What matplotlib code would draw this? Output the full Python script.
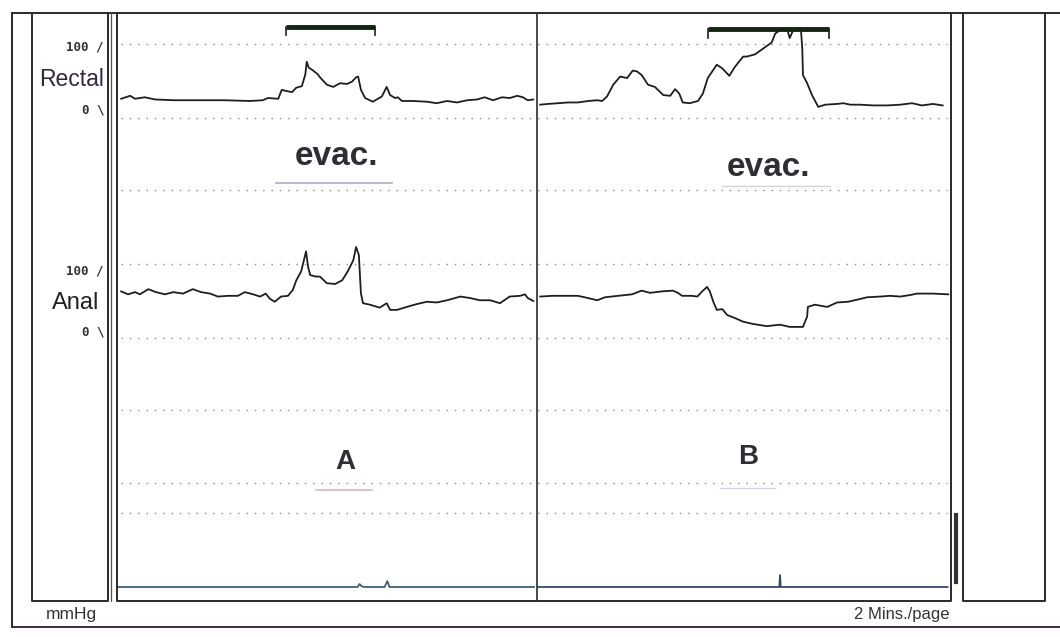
import matplotlib.pyplot as plt
from matplotlib.lines import Line2D

# time axis: seconds across one 2 min page, pressures in mmHg
rect_a_t = [0.6, 1.9, 2.6, 4.0, 5.5, 8.3, 11.9, 15.5, 19.1, 21.0, 21.7, 23.2, 23.7, 24.6, 25.2,
            25.8, 26.6, 27.1, 27.3, 27.6, 28.1, 28.9, 29.2, 30.2, 31.1, 32.1, 33.1, 33.8, 34.4,
            34.7, 35.1, 35.7, 36.8, 38.1, 38.8, 39.3, 40.0, 40.4, 41.0, 42.6, 44.6, 46.0, 47.5,
            48.9, 50.4, 51.8, 52.9, 54.1, 55.4, 56.5, 57.6, 58.4, 59.1, 59.9]
rect_a_p = [26, 30, 26, 28, 25, 24, 24, 24, 23, 24, 27, 26, 38, 36, 35,
            41, 43, 59, 76, 68, 65, 59, 55, 45, 42, 47, 46, 49, 55,
            56, 38, 27, 22, 29, 42, 31, 27, 28, 23, 23, 22, 20, 23,
            21, 24, 25, 28, 24, 28, 27, 30, 28, 24, 25]

rect_b_t = [60.9, 62.0, 63.5, 64.9, 66.3, 67.8, 69.1, 69.8, 70.5, 71.4, 72.4, 73.4, 74.2, 74.8,
            75.5, 76.4, 77.4, 78.6, 79.6, 80.3, 80.9, 81.4, 82.4, 83.6, 84.3, 85.0, 86.3, 87.1,
            88.1, 88.9, 90.1, 90.6, 91.8, 93.0, 94.2, 94.7, 95.4, 96.4, 96.8, 97.3, 98.0, 98.4,
            98.6, 98.7, 99.3, 100.0, 100.9, 101.9, 103.6, 104.5, 105.5, 106.9, 108.8, 110.8,
            112.7, 114.4, 115.8, 117.4, 118.8]
rect_b_p = [18, 19, 20, 21, 21, 23, 24, 23, 29, 45, 56, 54, 64, 63,
            58, 45, 42, 31, 30, 39, 33, 21, 20, 23, 33, 54, 72, 67,
            57, 69, 83, 83, 86, 94, 102, 114, 119, 121, 108, 119, 121, 121,
            94, 58, 47, 31, 15, 18, 19, 20, 18, 18, 17, 17,
            18, 20, 17, 19, 17]

anal_a_t = [0.6, 1.6, 2.6, 3.3, 4.5, 5.6, 6.9, 8.1, 9.5, 10.9, 12.1, 13.4, 14.5, 16.0, 17.4,
            18.4, 19.6, 20.6, 21.4, 22.0, 22.7, 23.6, 24.6, 25.3, 25.8, 26.5, 27.2, 27.5, 27.8,
            28.6, 29.2, 30.2, 31.4, 32.4, 33.2, 34.0, 34.4, 34.8, 35.1, 35.4, 36.4, 37.8, 38.8,
            39.3, 40.3, 41.7, 43.2, 44.6, 46.0, 47.5, 49.4, 50.8, 52.2, 53.7, 55.1, 56.5, 58.0,
            58.7, 59.1, 59.9]
anal_a_p = [63, 59, 62, 59, 66, 62, 59, 62, 60, 66, 62, 60, 56, 57, 57,
            62, 59, 56, 60, 53, 49, 56, 57, 65, 78, 90, 117, 96, 85,
            83, 83, 74, 73, 78, 90, 105, 123, 112, 60, 47, 45, 41, 47,
            38, 38, 42, 46, 49, 48, 51, 56, 54, 51, 51, 47, 56, 57,
            59, 54, 50]

anal_b_t = [60.9, 62.6, 64.5, 66.3, 67.3, 69.1, 70.2, 72.1, 74.1, 75.5, 76.7, 78.4, 80.0, 80.7,
            81.3, 82.7, 83.5, 84.2, 84.9, 85.3, 85.8, 86.3, 87.1, 87.8, 88.9, 90.1, 91.5, 93.5,
            95.4, 96.8, 98.7, 99.3, 99.4, 100.4, 102.2, 103.6, 105.2, 106.6, 107.9, 109.8, 111.2,
            112.7, 114.1, 115.1, 117.4, 119.6]
anal_b_p = [56, 57, 57, 57, 55, 51, 55, 57, 59, 64, 61, 63, 64, 61,
            57, 57, 56, 63, 69, 63, 49, 38, 39, 31, 27, 22, 19, 16,
            18, 15, 15, 29, 42, 45, 42, 48, 49, 52, 55, 56, 57,
            56, 58, 60, 60, 59]

event_a_t = [0.2, 34.6, 34.9, 35.2, 35.6, 38.5, 38.9, 39.2, 39.6, 60.0]
event_a_v = [0, 0, 4, 1, 0, 0, 8, 0, 0, 0]
event_b_t = [60.6, 95.3, 95.4, 95.5, 119.5]
event_b_v = [0, 0, 16, 0, 0]

evac_a = (24.3, 37.1)
evac_b = (85.0, 102.4)
page_split = 60.4

W, H = 1060, 637
fig = plt.figure(figsize=(W / 100, H / 100), dpi=100)
fig.patch.set_facecolor('white')


def fx(x):
    return x / W


def fy(y):
    return 1 - y / H


def fline(xs, ys, **kw):
    fig.add_artist(Line2D([fx(x) for x in xs], [fy(y) for y in ys],
                          transform=fig.transFigure, **kw))


# frames
frame = dict(color='#2a2a2a', lw=1.4)
fline([12, 1060], [13, 13], **frame)
fline([12, 1060], [627, 627], color='#3a2a3a', lw=1.4)
fline([12, 12], [13, 627], **frame)
fline([32, 32, 108, 108], [13, 601, 601, 13], **frame)
fline([110.5, 110.5], [13, 601], color='#555555', lw=0.9)
fline([117, 117, 951, 951], [13, 601, 601, 13], **frame)
fline([963, 963, 1045, 1045], [13, 601, 601, 13], **frame)
fline([956, 956], [515, 582], color='#333333', lw=3)

# channel axes, all share the main panel box; 0.74 px per mmHg
px_per_mmHg = 0.74
top_px, bot_px = 14, 601
box = [fx(117), fy(bot_px), fx(951) - fx(117), (bot_px - top_px) / H]


def channel(zero_px):
    ax = fig.add_axes(box)
    ax.set_xlim(0, 120)
    ax.set_ylim((zero_px - bot_px) / px_per_mmHg, (zero_px - top_px) / px_per_mmHg)
    ax.axis('off')
    ax.patch.set_alpha(0)
    return ax


ax_r = channel(118)
ax_a = channel(338)
ax_e = channel(587)

dots = dict(color='#8a8a8a', lw=1.0, ls=(0, (1, 5)), xmin=0.005, xmax=0.995)
for v in [100, 0, -97]:
    ax_r.axhline(v, **dots)
for v in [100, 0, -97, -196]:
    ax_a.axhline(v, **dots)
ax_e.axhline(100, **dots)

trace = dict(color='#1e1e1e', lw=1.3)
ax_r.plot(rect_a_t, rect_a_p, **trace)
ax_r.plot(rect_b_t, rect_b_p, **trace)
ax_a.plot(anal_a_t, anal_a_p, **trace)
ax_a.plot(anal_b_t, anal_b_p, **trace)
ax_e.plot(event_a_t, event_a_v, color='#3d6178', lw=1.3)
ax_e.plot(event_b_t, event_b_v, color='#34496a', lw=1.3)
ax_e.axvline(page_split, color='#2a2a2a', lw=1.2)

# evacuation markers
for (t0, t1), lvl, drop in [(evac_a, 123, 11), (evac_b, 120, 12)]:
    ax_r.plot([t0, t1], [lvl, lvl], color='#142414', lw=3.5, solid_capstyle='butt')
    ax_r.plot([t0, t0], [lvl, lvl - drop], color='#142414', lw=1.2)
    ax_r.plot([t1, t1], [lvl, lvl - drop], color='#142414', lw=1.2)

# labels
sans = 'Liberation Sans'
mono = dict(family='DejaVu Sans Mono', fontsize=9, fontweight='bold', color='#333333',
            ha='right', va='center')
fig.text(fx(104), fy(47), '100 /', **mono)
fig.text(fx(104), fy(110), '0 \\', **mono)
fig.text(fx(104), fy(271), '100 /', **mono)
fig.text(fx(104), fy(332), '0 \\', **mono)
fig.text(fx(104), fy(80), 'Rectal', family=sans, fontsize=16.5, color='#33283a', ha='right', va='center')
fig.text(fx(99), fy(303), 'Anal', family=sans, fontsize=17, color='#222222', ha='right', va='center')
fig.text(fx(46), fy(615), 'mmHg', family=sans, fontsize=12.5, color='#333333', ha='left', va='center')
fig.text(fx(949), fy(615), '2 Mins./page', family=sans, fontsize=12, color='#333333', ha='right', va='center')

big = dict(family=sans, fontweight='bold', color='#2e2e36', ha='center', va='center')
fig.text(fx(336), fy(157), 'evac.', fontsize=24, **big)
fig.text(fx(768), fy(168), 'evac.', fontsize=24, **big)
fig.text(fx(345), fy(462), 'A', fontsize=20, **big)
fig.text(fx(748), fy(457), 'B', fontsize=20, **big)

# faint marker underlines from the scan
fline([276, 392], [183, 183], color='#7f8fb0', lw=1.2, alpha=0.7)
fline([722, 830], [186, 186], color='#b8c4d0', lw=1.0, alpha=0.7)
fline([316, 372], [490, 490], color='#d09a90', lw=1.2, alpha=0.7)
fline([720, 775], [488, 488], color='#b8c8d4', lw=1.0, alpha=0.7)

fig.savefig('out.png', dpi=100)
